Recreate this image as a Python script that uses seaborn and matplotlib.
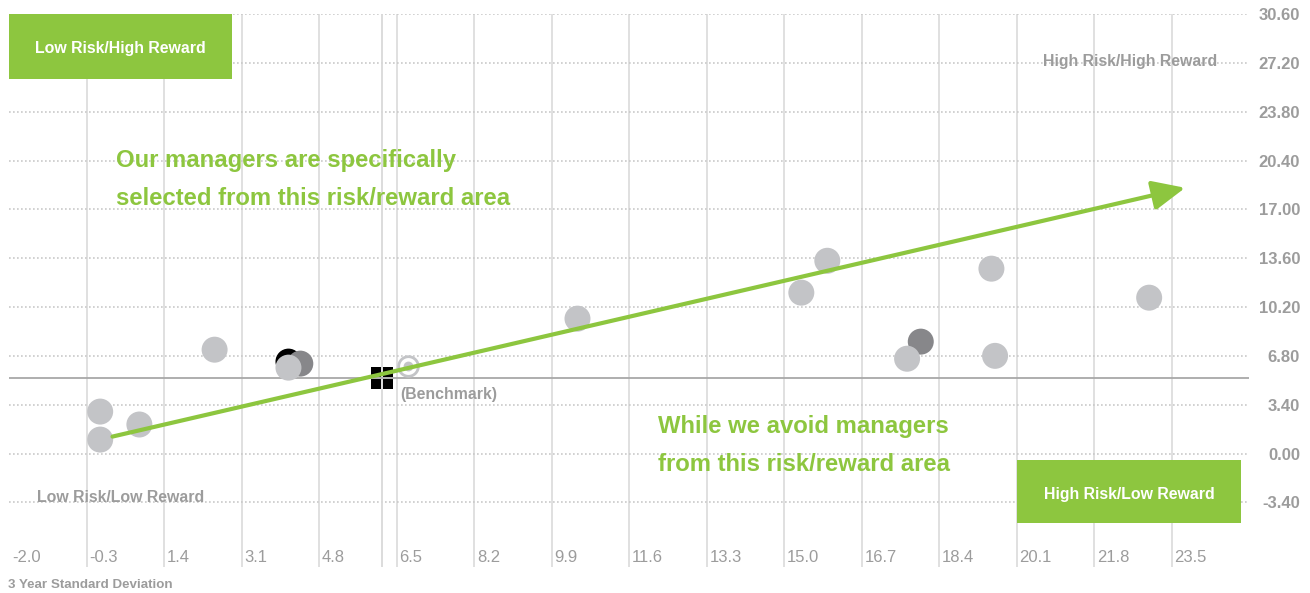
import numpy as np
import pandas as pd
import matplotlib
matplotlib.use('Agg')
import matplotlib.pyplot as plt
import matplotlib.transforms as mtransforms
from matplotlib.path import Path
from matplotlib.patches import Rectangle
import seaborn as sns

sns.set_theme(style = 'white')
plt.rcParams['font.family'] = ['Liberation Sans', 'DejaVu Sans']

# managers: 3 year standard deviation vs return
risk = [4.13, 4.39, 18.00, 4.13, 0.00, 0.00, 0.86, 2.51, 10.47, 15.38, 15.95, 17.70, 19.55, 19.63, 23.01]
ret = [6.40, 6.26, 7.79, 5.98, 2.92, 0.97, 2.02, 7.23, 9.39, 11.20, 13.42, 6.60, 12.87, 6.80, 10.85]
shade = ['black', 'dark', 'dark', 'light', 'light', 'light', 'light', 'light', 'light',
         'light', 'light', 'light', 'light', 'light', 'light']

bench_risk, bench_ret = 6.76, 6.10
cross_risk, cross_ret = 6.19, 5.28
trend_x = [0.27, 23.8]
trend_y = [1.18, 18.5]

x_ticks = [-2.0, -0.3, 1.4, 3.1, 4.8, 6.5, 8.2, 9.9, 11.6, 13.3, 15.0, 16.7, 18.4, 20.1, 21.8, 23.5]
y_ticks = [-3.40, 0.00, 3.40, 6.80, 10.20, 13.60, 17.00, 20.40, 23.80, 27.20, 30.60]

GREEN = '#8dc63f'
GREY_TXT = '#9c9c9c'

df = pd.DataFrame({'risk': risk, 'ret': ret, 'shade': shade})

fig = plt.figure(figsize = (13.1, 5.93), dpi = 100)
ax = fig.add_axes([9 / 1310, 1 - 567 / 593, (1249 - 9) / 1310, (567 - 14) / 593])

ax.set_xlim(-2.0, 25.2)
ax.set_ylim(-7.9, 30.6)
sns.despine(ax = ax, left = True, bottom = True)

# grid
for xv in x_ticks[1:]:
    ax.axvline(xv, color = '#dddddd', linewidth = 1.3, zorder = 0)
for yv in y_ticks:
    ax.axhline(yv, color = '#c9c9c9', linewidth = 1.2, linestyle = (0, (1, 1.4)), zorder = 0)

# benchmark crosshair
ax.axvline(cross_risk, color = '#d9d9d9', linewidth = 1.3, zorder = 0.5)
ax.axhline(cross_ret, color = '#a8a8a8', linewidth = 1.3, zorder = 0.5)

# quadrant boxes
ax.add_patch(Rectangle((-2.0, 26.08), 4.9, 4.52, color = GREEN, zorder = 2, linewidth = 0))
ax.text(0.45, 28.2, 'Low Risk/High Reward', color = 'white', fontsize = 11.4, fontweight = 'bold',
        ha = 'center', va = 'center', zorder = 3)
ax.add_patch(Rectangle((20.12, -4.87), 4.91, 4.45, color = GREEN, zorder = 2, linewidth = 0))
ax.text(22.57, -2.85, 'High Risk/Low Reward', color = 'white', fontsize = 11.4, fontweight = 'bold',
        ha = 'center', va = 'center', zorder = 3)

ax.text(22.6, 27.3, 'High Risk/High Reward', color = GREY_TXT, fontsize = 11.4, fontweight = 'bold',
        ha = 'center', va = 'center', zorder = 3)
ax.text(0.45, -3.05, 'Low Risk/Low Reward', color = GREY_TXT, fontsize = 11.4, fontweight = 'bold',
        ha = 'center', va = 'center', zorder = 3)

# managers
sns.scatterplot(data = df, x = 'risk', y = 'ret', hue = 'shade',
                palette = {'black': '#000000', 'dark': '#87878a', 'light': '#c3c4c7'},
                s = 350, linewidth = 0, legend = False, ax = ax, zorder = 4)

# benchmark marker
ax.scatter([bench_risk], [bench_ret], s = 200, facecolor = 'white', edgecolor = '#c3c4c7',
           linewidth = 2.0, zorder = 4)
ax.scatter([bench_risk], [bench_ret], s = 50, color = '#c3c4c7', linewidth = 0, zorder = 5)
ax.annotate('(Benchmark)', (bench_risk, bench_ret), xytext = (-8, -29), textcoords = 'offset pixels',
            color = GREY_TXT, fontsize = 11.4, fontweight = 'bold', ha = 'left', va = 'center', zorder = 5)

# four-square crosshair marker
sq = []
for sx in (-1, 1):
    for sy in (-1, 1):
        x0, x1 = sorted((0.08 * sx, 1.0 * sx))
        y0, y1 = sorted((0.08 * sy, 1.0 * sy))
        sq.append(Path([(x0, y0), (x1, y0), (x1, y1), (x0, y1), (x0, y0)], closed = True))
four_sq = Path.make_compound_path(*sq)
ax.scatter([cross_risk], [cross_ret], marker = four_sq, s = 270, color = 'black', linewidth = 0, zorder = 5)

# trend arrow
ax.annotate('', xy = (trend_x[1], trend_y[1]), xytext = (trend_x[0], trend_y[0]),
            arrowprops = dict(arrowstyle = '-|>,head_length=1.0,head_width=0.45', color = GREEN,
                              lw = 3, shrinkA = 0, shrinkB = 0, mutation_scale = 20),
            zorder = 6)

ax.text(0.34, 19.06, 'Our managers are specifically\nselected from this risk/reward area',
        color = GREEN, fontsize = 17.2, fontweight = 'bold', ha = 'left', va = 'center',
        linespacing = 1.85, zorder = 6)
ax.text(12.24, 0.56, 'While we avoid managers\nfrom this risk/reward area',
        color = GREEN, fontsize = 17.2, fontweight = 'bold', ha = 'left', va = 'center',
        linespacing = 1.85, zorder = 6)

# ticks
ax.set_xticks(x_ticks)
ax.set_xticklabels([f'{v:.1f}' for v in x_ticks])
ax.set_yticks(y_ticks)
ax.set_yticklabels([f'{v:.2f}' for v in y_ticks])
ax.yaxis.tick_right()
ax.tick_params(axis = 'both', length = 0, pad = 0)
ax.grid(False)

xoff = mtransforms.ScaledTranslation(3 / 100, 17 / 100, fig.dpi_scale_trans)
for lab in ax.get_xticklabels():
    lab.set_horizontalalignment('left')
    lab.set_fontsize(12)
    lab.set_color(GREY_TXT)
    lab.set_transform(lab.get_transform() + xoff)

yoff = mtransforms.ScaledTranslation(51 / 100, 0, fig.dpi_scale_trans)
for lab in ax.get_yticklabels():
    lab.set_horizontalalignment('right')
    lab.set_fontsize(12)
    lab.set_fontweight('bold')
    lab.set_color(GREY_TXT)
    lab.set_transform(lab.get_transform() + yoff)

ax.set_xlabel('3 Year Standard Deviation', loc = 'left', fontsize = 9.6, fontweight = 'bold',
              color = GREY_TXT)
ax.xaxis.set_label_coords(-0.001, -0.0325)
ax.xaxis.label.set_verticalalignment('center')
ax.set_ylabel('')

fig.savefig('out.png', dpi = 100)
